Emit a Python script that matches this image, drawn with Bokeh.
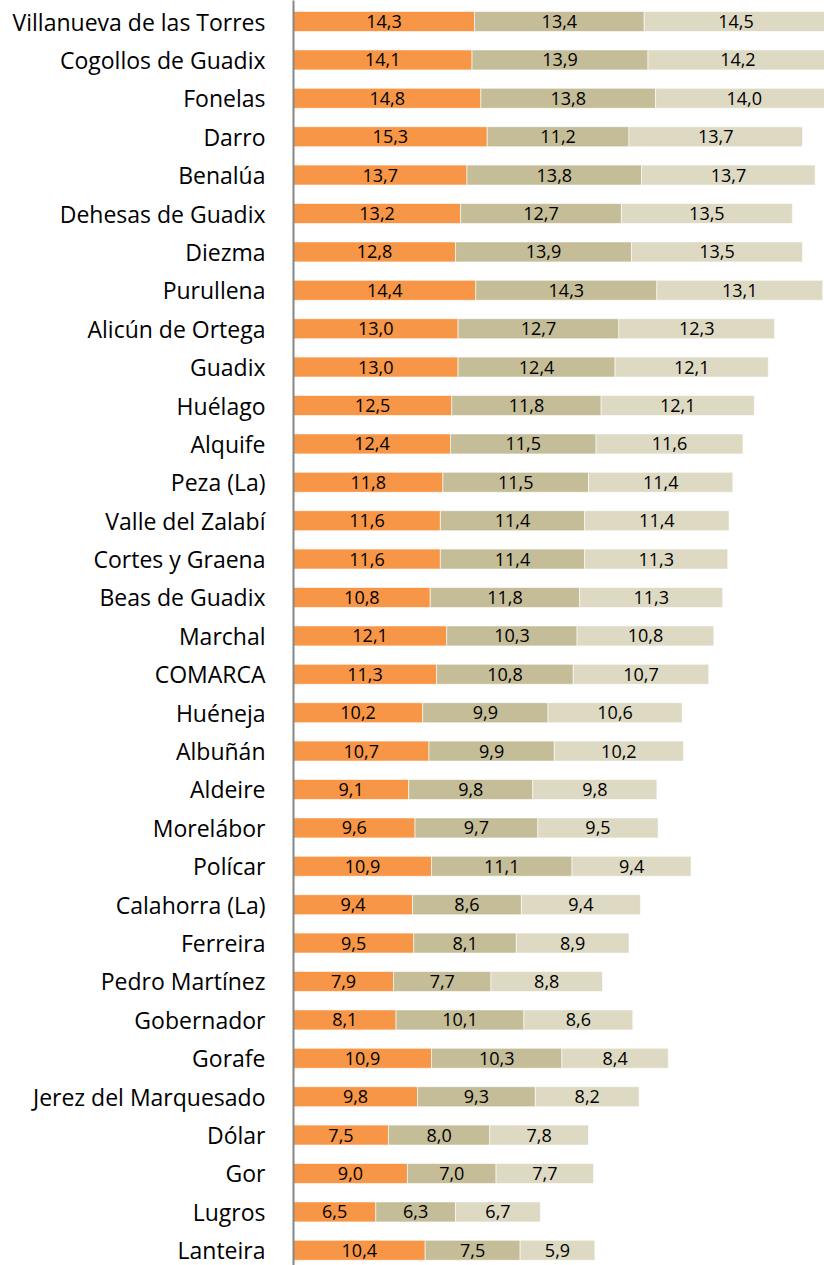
from bokeh.plotting import figure
from bokeh.models import Range1d, ColumnDataSource, FixedTicker
from bokeh.core.properties import value
from bokeh.embed import file_html
from bokeh.resources import INLINE

municipios = ["Villanueva de las Torres", "Cogollos de Guadix", "Fonelas", "Darro", "Benalúa",
              "Dehesas de Guadix", "Diezma", "Purullena", "Alicún de Ortega", "Guadix", "Huélago",
              "Alquife", "Peza (La)", "Valle del Zalabí", "Cortes y Graena", "Beas de Guadix",
              "Marchal", "COMARCA", "Huéneja", "Albuñán", "Aldeire", "Morelábor", "Polícar",
              "Calahorra (La)", "Ferreira", "Pedro Martínez", "Gobernador", "Gorafe",
              "Jerez del Marquesado", "Dólar", "Gor", "Lugros", "Lanteira"]
serie1 = [14.3, 14.1, 14.8, 15.3, 13.7, 13.2, 12.8, 14.4, 13.0, 13.0, 12.5, 12.4, 11.8, 11.6, 11.6,
          10.8, 12.1, 11.3, 10.2, 10.7, 9.1, 9.6, 10.9, 9.4, 9.5, 7.9, 8.1, 10.9, 9.8, 7.5, 9.0, 6.5, 10.4]
serie2 = [13.4, 13.9, 13.8, 11.2, 13.8, 12.7, 13.9, 14.3, 12.7, 12.4, 11.8, 11.5, 11.5, 11.4, 11.4,
          11.8, 10.3, 10.8, 9.9, 9.9, 9.8, 9.7, 11.1, 8.6, 8.1, 7.7, 10.1, 10.3, 9.3, 8.0, 7.0, 6.3, 7.5]
serie3 = [14.5, 14.2, 14.0, 13.7, 13.7, 13.5, 13.5, 13.1, 12.3, 12.1, 12.1, 11.6, 11.4, 11.4, 11.3,
          11.3, 10.8, 10.7, 10.6, 10.2, 9.8, 9.5, 9.4, 9.4, 8.9, 8.8, 8.6, 8.4, 8.2, 7.8, 7.7, 6.7, 5.9]
colores = ["#F79646", "#C4BD97", "#DDD9C3"]

idx = list(range(len(municipios)))

p = figure(width=824, height=1265, output_backend="svg", toolbar_location=None,
           x_range=Range1d(0, 41.94), y_range=Range1d(32.396, -0.547),
           x_axis_location=None, min_border_left=293, min_border_right=0,
           min_border_top=0, min_border_bottom=0)
p.outline_line_color = None
p.grid.visible = False

series = [serie1, serie2, serie3]
left = [0.0] * len(idx)
for s, col in zip(series, colores):
    right = [l + v for l, v in zip(left, s)]
    src = ColumnDataSource(dict(y=idx, left=left, right=right,
                                xc=[(l + r) / 2 for l, r in zip(left, right)],
                                lab=[f"{v:.1f}".replace(".", ",") for v in s]))
    p.hbar(y="y", left="left", right="right", height=0.52, fill_color=col,
           line_color="white", line_width=0.6, source=src)
    p.text(x="xc", y="y", text="lab", source=src, text_align="center", text_baseline="middle",
           text_font=value("Open Sans"), text_font_size="18px", text_color="black")
    left = right

ax = p.yaxis[0]
ax.ticker = FixedTicker(ticks=idx)
ax.major_label_overrides = {i: n for i, n in zip(idx, municipios)}
ax.major_tick_line_color = None
ax.minor_tick_line_color = None
ax.axis_line_color = "#868686"
ax.axis_line_width = 2
ax.major_label_standoff = 22
ax.major_label_text_font = "Open Sans"
ax.major_label_text_font_size = "23px"
ax.major_label_text_color = "black"

open("out.html", "w").write(file_html(p, INLINE))
